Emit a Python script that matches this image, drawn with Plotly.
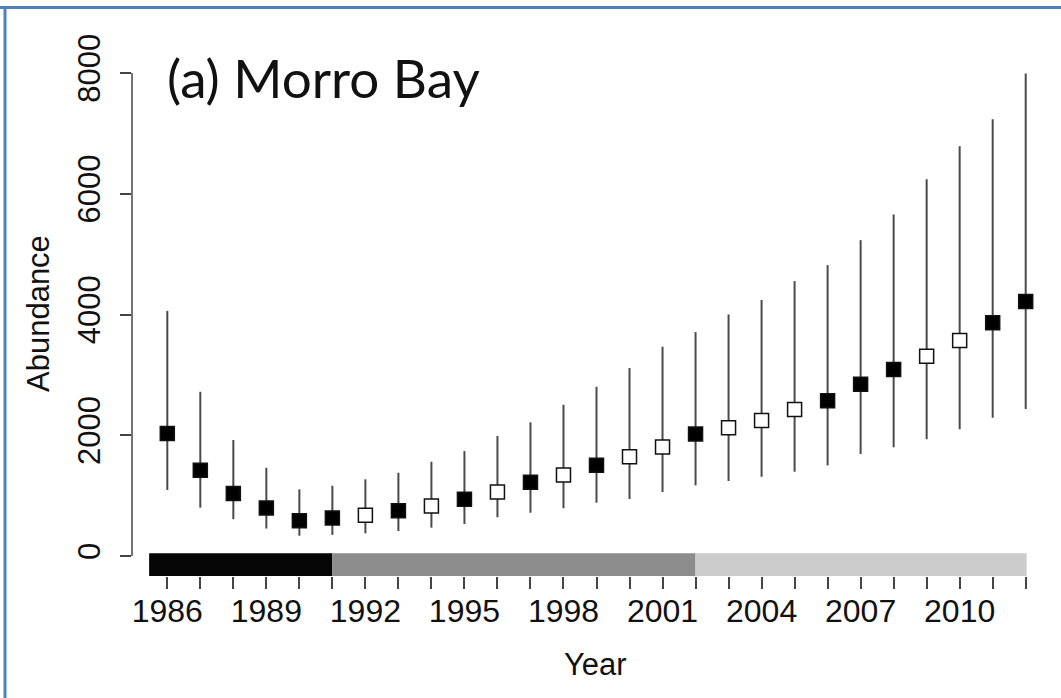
import plotly.graph_objects as go

years = list(range(1986, 2013))
estimate = [2030, 1420, 1035, 795, 585, 630, 675, 750, 828, 940, 1060, 1220, 1340, 1505,
            1645, 1805, 2020, 2125, 2245, 2428, 2571, 2843, 3090, 3310, 3570, 3862, 4215]
lower = [1093, 800, 610, 455, 336, 350, 376, 414, 469, 530, 641, 717, 790, 883,
         944, 1060, 1170, 1242, 1313, 1396, 1501, 1689, 1800, 1932, 2098, 2290, 2434]
upper = [4060, 2720, 1921, 1462, 1104, 1164, 1270, 1379, 1561, 1738, 1987, 2214, 2505, 2803,
         3113, 3466, 3709, 4001, 4240, 4553, 4818, 5232, 5657, 6242, 6788, 7235, 7991]
filled = [1, 1, 1, 1, 1, 1, 0, 1, 0, 1, 0, 1, 0, 1,
          0, 0, 1, 0, 0, 0, 1, 1, 1, 0, 0, 1, 1]
period_edges = [1985.45, 1991, 2002, 2012.03]
ytick_vals = [0, 2000, 4000, 6000, 8000]
xtick_labels = [str(y) if (y - 1986) % 3 == 0 else "" for y in years]

W, H = 1061, 698
L, R, T, B = 132, 21, 60, 122
pw, ph = W - L - R, H - T - B


def px_x(p):
    return (p - L) / pw


def px_y(p):
    return (H - B - p) / ph


period_colors = ["#050505", "#8c8c8c", "#cccccc"]
font_fam = "Liberation Sans, Arial, sans-serif"

fig = go.Figure()
for flag, fill in [(1, "#000000"), (0, "#ffffff")]:
    idx = [i for i, f in enumerate(filled) if f == flag]
    fig.add_trace(go.Scatter(
        x=[years[i] for i in idx],
        y=[estimate[i] for i in idx],
        mode="markers",
        marker=dict(symbol="square", size=14, color=fill,
                    line=dict(color="#111111", width=1.5)),
        error_y=dict(type="data", symmetric=False,
                     array=[upper[i] - estimate[i] for i in idx],
                     arrayminus=[estimate[i] - lower[i] for i in idx],
                     color="#4a4a4a", thickness=2, width=0),
        showlegend=False, hoverinfo="skip",
    ))

shapes = []
for i in range(len(period_colors)):
    shapes.append(dict(type="rect", xref="x", yref="paper",
                       x0=period_edges[i], x1=period_edges[i + 1],
                       y0=0, y1=px_y(553.3),
                       fillcolor=period_colors[i], line=dict(width=0), layer="below"))
# y axis line from 0 to 8000
shapes.append(dict(type="line", xref="paper", yref="y", x0=0, x1=0,
                   y0=ytick_vals[0], y1=ytick_vals[-1],
                   line=dict(color="#444444", width=1.5)))
# blue frame (top and left)
shapes.append(dict(type="line", xref="paper", yref="paper",
                   x0=px_x(0), x1=px_x(W), y0=px_y(7.5), y1=px_y(7.5),
                   line=dict(color="#4f81bd", width=3)))
shapes.append(dict(type="line", xref="paper", yref="paper",
                   x0=px_x(5), x1=px_x(5), y0=px_y(6), y1=px_y(H),
                   line=dict(color="#4f81bd", width=3)))

annotations = [
    dict(text="(a) Morro Bay", xref="paper", yref="paper",
         x=px_x(165), y=px_y(78), xanchor="left", yanchor="middle",
         showarrow=False, font=dict(family="Lato, Open Sans, sans-serif", size=53, color="#111111")),
    dict(text="Year", xref="paper", yref="paper",
         x=px_x(595), y=px_y(664), xanchor="center", yanchor="middle",
         showarrow=False, font=dict(family=font_fam, size=31, color="#111111")),
    dict(text="Abundance", xref="paper", yref="paper",
         x=px_x(38), y=px_y(314), xanchor="center", yanchor="middle", textangle=-90,
         showarrow=False, font=dict(family=font_fam, size=31, color="#111111")),
]

x0 = 1986 - (167.3 - L) / 33.02
x1 = 2012 + (W - R - 1025.7) / 33.02
scale = (556 - 73) / 8000
y_top = 8000 + (73 - T) / scale
y_bot = -(H - B - 556) / scale

fig.update_layout(
    width=W, height=H,
    margin=dict(l=L, r=R, t=T, b=B, pad=0),
    paper_bgcolor="white", plot_bgcolor="white",
    shapes=shapes, annotations=annotations,
    xaxis=dict(range=[x0, x1], tickvals=years, ticktext=xtick_labels,
               ticks="outside", ticklen=12, tickwidth=1.5, tickcolor="#444444",
               showline=False, showgrid=False, zeroline=False, ticklabelstandoff=-5,
               tickfont=dict(family=font_fam, size=32, color="#111111")),
    yaxis=dict(range=[y_bot, y_top], tickvals=ytick_vals,
               ticks="outside", ticklen=11, tickwidth=1.5, tickcolor="#444444",
               showline=False, showgrid=False, zeroline=False, tickangle=-90,
               ticklabelstandoff=8,
               tickfont=dict(family=font_fam, size=31, color="#111111")),
)

fig.write_html("out.html", config={"displayModeBar": False},
               post_script="document.body.style.margin='0';")
